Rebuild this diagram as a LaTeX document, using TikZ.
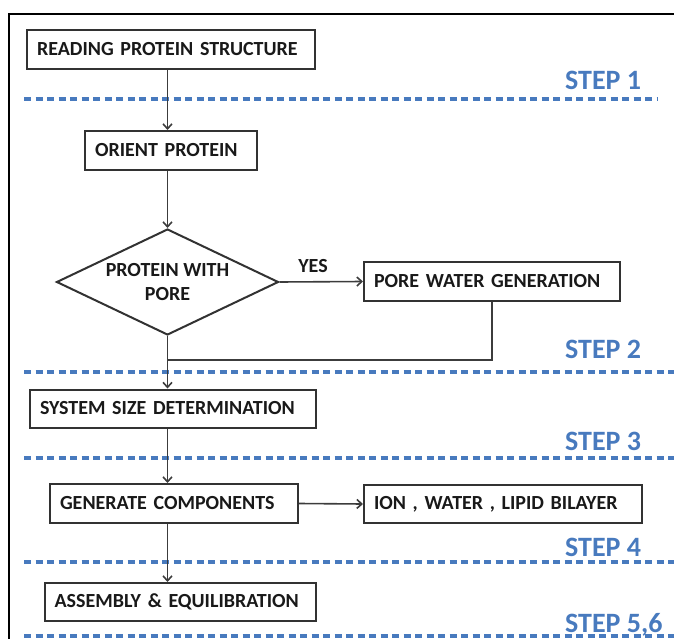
\documentclass[tikz,border=0pt]{standalone}
\usepackage{fontspec}
\setmainfont{Carlito}
\usepackage{xcolor}
\definecolor{stepblue}{RGB}{72,122,190}
\definecolor{boxgray}{RGB}{50,50,50}
\definecolor{linegray}{RGB}{60,60,60}
\usetikzlibrary{arrows.meta,shapes.geometric}

\tikzset{
  stepbox/.style={draw=boxgray,line width=2pt,fill=white,minimum height=39pt,
    inner xsep=10pt,inner ysep=0pt,align=left,text=black!90,
    font=\fontsize{20}{24}\selectfont\bfseries},
  decision/.style={draw=boxgray,line width=2pt,fill=white,shape=diamond,aspect=2.1,
    minimum width=222pt,minimum height=106pt,inner sep=0pt,align=center,text=black!90,
    font=\fontsize{20}{24}\selectfont\bfseries},
  flow/.style={draw=linegray,line width=1.6pt,-{Straight Barb[length=5pt,width=9pt]}},
  joinline/.style={draw=linegray,line width=1.6pt},
  stepline/.style={draw=stepblue,line width=3.2pt,dash pattern=on 7pt off 4.5pt},
  steplabel/.style={text=stepblue,font=\fontsize{28}{30}\selectfont\bfseries,
    anchor=base west,inner sep=0pt}
}

\begin{document}
\begin{tikzpicture}[x=1pt,y=-1pt]
  \useasboundingbox (0,0) rectangle (674,639);
  % Frame
  \draw[line width=2pt] (9,639) -- (9,14) -- (674,14);
  % Step separators
  \draw[stepline] (24,99) -- (657,99);
  \draw[stepline] (24,372) -- (674,372);
  \draw[stepline] (24,458) -- (674,458);
  \draw[stepline] (24,562) -- (674,562);
  \draw[stepline] (24,636) -- (674,636);
  \node[steplabel] (step1) at (565,90) {STEP 1};
  \node[steplabel] (step2) at (565,358) {STEP 2};
  \node[steplabel] (step3) at (565,450) {STEP 3};
  \node[steplabel] (step4) at (565,556) {STEP 4};
  \node[steplabel] (step56) at (565,632) {STEP 5,6};
  % Reading
  \node[stepbox,text width=268pt] (reading) at (171,49.5) {READING PROTEIN STRUCTURE};
  % Orient
  \node[stepbox,text width=152pt] (orient) at (171,150.5) {ORIENT PROTEIN};
  % Pore test
  \node[decision] (diam) at (167.5,282) {PROTEIN WITH\\PORE};
  \node[font=\fontsize{20}{24}\selectfont\bfseries,text=black!90] (yes) at (313,266) {YES};
  \node[stepbox,text width=236pt] (pore) at (492,281.5) {PORE WATER GENERATION};
  \coordinate (join) at (167.5,360);
  % System size
  \node[stepbox,text width=266pt,minimum height=38pt] (system) at (173,408.5) {SYSTEM SIZE DETERMINATION};
  % Components
  \node[stepbox,text width=228pt] (gen) at (174,503.5) {GENERATE COMPONENTS};
  \node[stepbox,text width=258pt,minimum height=38pt] (ion) at (503,504) {ION , WATER , LIPID BILAYER};
  % Assembly
  \node[stepbox,text width=251pt,minimum height=38pt] (assembly) at (180,602) {ASSEMBLY \& EQUILIBRATION};
  % Arrows
  \draw[flow] (reading.south -| diam.north) -- (orient.north -| diam.north);
  \draw[flow] (orient.south -| diam.north) -- (diam.north);
  \draw[flow] (diam.east) -- (pore.west);
  \draw[joinline] (pore.south) |- (join);
  \draw[flow] (diam.south) -- (system.north -| diam.north);
  \draw[flow] (system.south -| diam.north) -- (gen.north -| diam.north);
  \draw[flow] (gen.east) -- (ion.west);
  \draw[flow] (gen.south -| diam.north) -- (assembly.north -| diam.north);
\end{tikzpicture}
\end{document}
